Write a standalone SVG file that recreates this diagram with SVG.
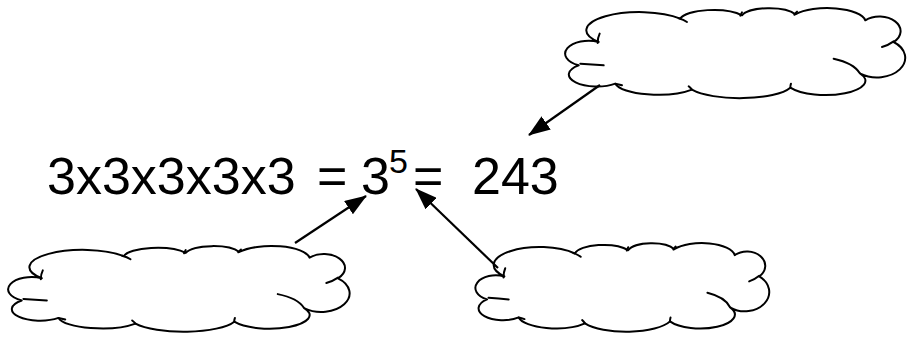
<svg xmlns="http://www.w3.org/2000/svg" width="914" height="338" viewBox="0 0 914 338">
<defs>
<style>
.cl{fill:#fff;stroke:#000;stroke-width:2;vector-effect:non-scaling-stroke;stroke-linejoin:round}
.tl{fill:none;stroke:#000;stroke-width:2;vector-effect:non-scaling-stroke;stroke-linecap:round}
.cn{fill:none;stroke:#000;stroke-width:2.2}
.tx{font-family:"Liberation Sans",Arial,sans-serif;fill:#000;font-size:52px}
</style>
<marker id="ah" markerUnits="userSpaceOnUse" markerWidth="22" markerHeight="16" viewBox="0 0 22 16" refX="21" refY="8" orient="auto">
<path d="M0,0 L22,8 L0,16 Z" fill="#000"/>
</marker>
<g id="cloudShape">
<path class="cl" d="M115,125 A140,48 0 0 1 360,55 A100,32 0 0 1 545,45 A85,30 0 0 1 705,42 A115,42 0 0 1 915,60 A55,38 0 0 1 1000,125 A72,50 0 0 1 900,220 A112,40 0 0 1 690,262 A160,46 0 0 1 395,268 A130,40 0 0 1 165,250 A70,30 0 0 1 55,195 A62,34 0 0 1 115,125 Z"/>
<path class="tl" d="M60,190 Q95,192 130,195"/>
<path class="tl" d="M112,128 Q112,112 118,100"/>
<path class="tl" d="M355,54 Q370,58 380,65"/>
<path class="tl" d="M540,46 Q543,40 545,36"/>
<path class="tl" d="M702,43 Q705,38 710,34"/>
<path class="tl" d="M1000,123 Q985,134 965,140"/>
<path class="tl" d="M898,218 Q880,188 820,175"/>
<path class="tl" d="M690,262 Q690,256 692,250"/>
<path class="tl" d="M395,268 Q390,262 385,258"/>
<path class="tl" d="M165,250 Q175,252 185,255"/>
</g>
</defs>
<g id="cloud-top-right" transform="translate(567,7) scale(0.3333,0.3333) translate(-20,-20)">
<use href="#cloudShape"/>
</g>
<g id="cloud-bottom-left" transform="translate(10,245) scale(0.3347,0.317) translate(-20,-20)">
<use href="#cloudShape"/>
</g>
<g id="cloud-bottom-right" transform="translate(477,242) scale(0.288,0.328) translate(-20,-20)">
<use href="#cloudShape"/>
</g>
<g id="connectors">
<line class="cn" x1="600" y1="85" x2="529" y2="135" marker-end="url(#ah)"/>
<line class="cn" x1="295" y1="243" x2="366" y2="196" marker-end="url(#ah)"/>
<line class="cn" x1="498" y1="268" x2="416" y2="189" marker-end="url(#ah)"/>
</g>
<g id="equation">
<text class="tx" x="47" y="194">3x3x3x3x3</text>
<text class="tx" x="317" y="194">=</text>
<text class="tx" x="361" y="194">3</text>
<text class="tx" x="389" y="173" style="font-size:34px">5</text>
<text class="tx" x="413" y="194">=</text>
<text class="tx" x="472" y="194">243</text>
</g>
</svg>
